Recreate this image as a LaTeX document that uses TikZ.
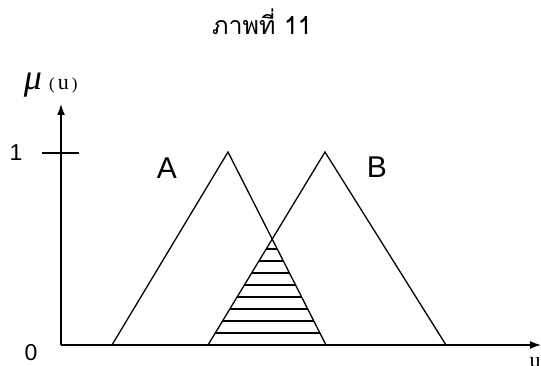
\documentclass[tikz,border=0pt]{standalone}
\usepackage{fontspec}
\setmainfont{Liberation Serif}
\newfontfamily\thaifont[Script=Thai]{Loma}
\newfontfamily\arialfont{Liberation Sans}
\usetikzlibrary{calc,arrows.meta}
\begin{document}
\begin{tikzpicture}[x=1pt,y=-1pt,
  axis/.style={line width=1.5pt,-{Latex[length=11pt,width=8pt]}},
  tri/.style={line width=1.3pt,line join=miter},
  hatch/.style={line width=1.3pt},
  big/.style={font=\arialfont\fontsize{30}{30}\selectfont,inner sep=0pt},
  lab/.style={font=\arialfont\fontsize{23}{23}\selectfont,inner sep=0pt},
  small/.style={font=\fontsize{17}{17}\selectfont,inner sep=0pt}]
\useasboundingbox (0,0) rectangle (541,366);
% coordinates
\coordinate (O) at (61,345);
\coordinate (ytip) at (61,104);
\coordinate (xtip) at (541,345);
\coordinate (tickL) at (42,153);
\coordinate (tickR) at (79,153);
\coordinate (Aleft) at (112,345);
\coordinate (Atop) at (228,152);
\coordinate (Aright) at (326,345);
\coordinate (Bleft) at (208,345);
\coordinate (Btop) at (325,152);
\coordinate (Bright) at (446,345);
% axes
\draw[axis] (O) -- (ytip);
\draw[axis] (O) -- (xtip);
\draw[line width=1.2pt] (tickL) -- (tickR);
% triangles
\draw[tri] (Aleft) -- (Atop) -- (Aright);
\draw[tri] (Bleft) -- (Btop) -- (Bright);
% hatching
\foreach \f in {0.5026,0.5648,0.6269,0.6891,0.7513,0.8135,0.8756,0.9378}
  \draw[hatch] ($(Btop)!\f!(Bleft)$) -- ($(Atop)!\f!(Aright)$);
% labels
\node[font=\thaifont\fontsize{25}{25}\selectfont] (title) at (262,22) {ภาพที่ 11};
\node[inner sep=0pt,font=\itshape\fontsize{36}{36}\selectfont,anchor=base] (mu) at (33,90) {μ};
\node[small,anchor=base west] (muu) at (49,90) {(\hspace{3pt}{\fontsize{22}{22}\selectfont u}\hspace{3pt})};
\node[big] (A) at (167,168) {A};
\node[big] (B) at (377,167) {B};
\node[lab] (one) at (16,153) {1};
\node[lab] (zero) at (31,353) {0};
\node[small,anchor=north] (u) at (535,357) {\fontsize{22}{22}\selectfont u};
\end{tikzpicture}
\end{document}
